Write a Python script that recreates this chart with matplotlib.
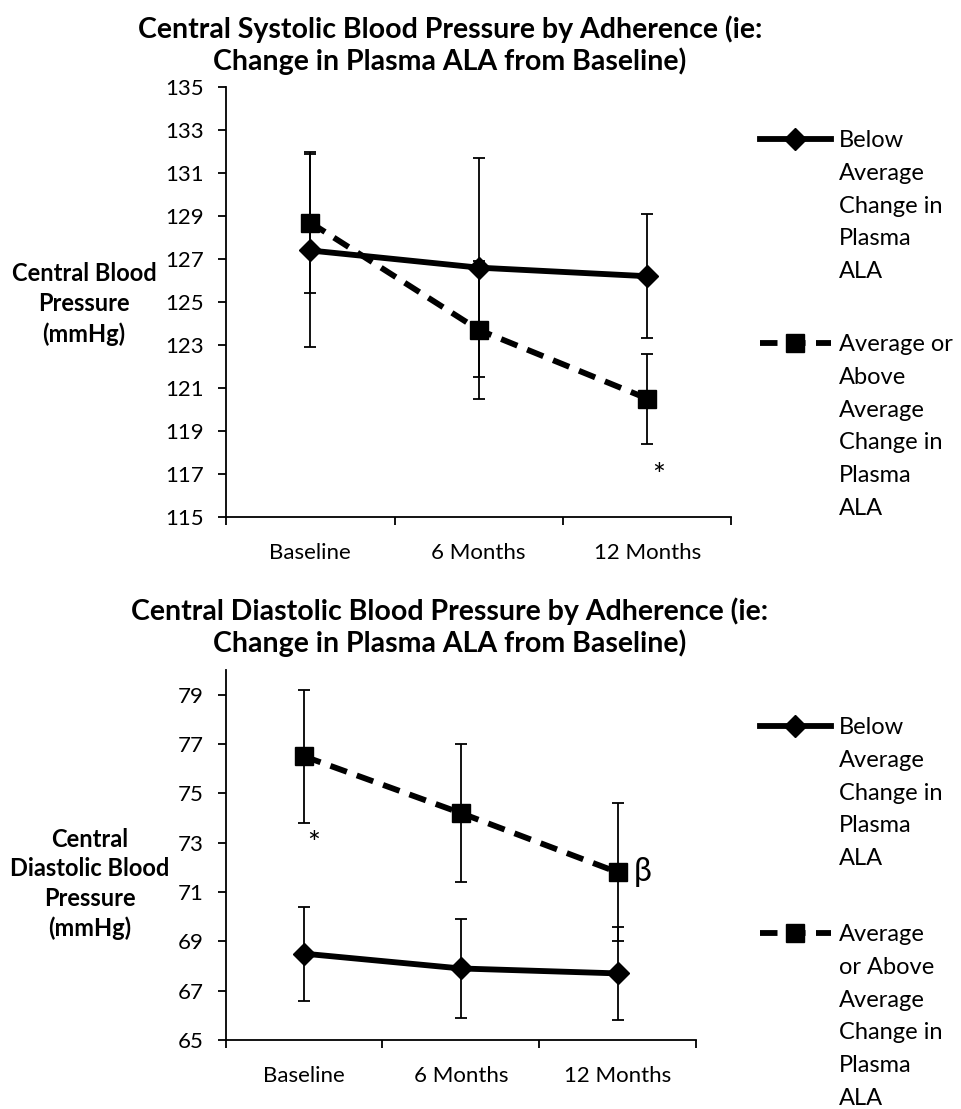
import numpy as np
import matplotlib.pyplot as plt
from matplotlib.lines import Line2D

plt.rcParams['font.family'] = ['Lato', 'DejaVu Sans']

timepoints = ['Baseline', '6 Months', '12 Months']

# central systolic (mmHg), mean and error bar half-width
sys_below = [127.4, 126.6, 126.2]
sys_below_err = [4.5, 5.1, 2.9]
sys_above = [128.7, 123.7, 120.5]
sys_above_err = [3.3, 3.2, 2.1]

# central diastolic (mmHg)
dia_below = [68.5, 67.9, 67.7]
dia_below_err = [1.9, 2.0, 1.9]
dia_above = [76.5, 74.2, 71.8]
dia_above_err = [2.7, 2.8, 2.8]

below_lines = ['Below', 'Average', 'Change in', 'Plasma', 'ALA']
above_lines_top = ['Average or', 'Above', 'Average', 'Change in', 'Plasma', 'ALA']
above_lines_bot = ['Average', 'or Above', 'Average', 'Change in', 'Plasma', 'ALA']

W, H = 962, 1109
fig = plt.figure(figsize=(W / 100, H / 100), dpi=100)


def add_legend(handle, lines, top_px):
    blank = Line2D([], [], linestyle='none')
    leg = fig.legend([handle] + [blank] * (len(lines) - 1), lines, loc='upper left',
                     frameon=False, bbox_to_anchor=(760 / W, 1 - top_px / H),
                     bbox_transform=fig.transFigure, fontsize=17, handlelength=3.0,
                     handletextpad=0.35, labelspacing=0.5, borderpad=0, borderaxespad=0)
    return leg


def draw(ax, below, below_err, above, above_err, ylo, yhi):
    x = np.arange(len(timepoints))
    for vals, errs in [(below, below_err), (above, above_err)]:
        ax.errorbar(x, vals, yerr=errs, fmt='none', ecolor='black',
                    elinewidth=1.3, capsize=4, capthick=1.3, zorder=4)
    l1, = ax.plot(x, below, color='black', lw=4.2, marker='D', ms=11, zorder=3)
    l2, = ax.plot(x, above, color='black', lw=4.2, ls=(0, (3.0, 1.8)),
                  marker='s', ms=13, zorder=3)

    ax.set_xlim(-0.5, len(timepoints) - 0.5)
    ax.set_ylim(ylo, yhi)
    ax.set_xticks(x)
    ax.set_xticklabels(timepoints)
    ax.set_xticks(np.arange(-0.5, len(timepoints)), minor=True)
    ax.tick_params(axis='x', which='major', length=0, pad=19, labelsize=16)
    ax.tick_params(axis='x', which='minor', length=6, width=1.3, direction='out')
    ax.tick_params(axis='y', length=6, width=1.3, direction='out', pad=10, labelsize=16)
    for s in ['top', 'right']:
        ax.spines[s].set_visible(False)
    for s in ['left', 'bottom']:
        ax.spines[s].set_linewidth(1.3)
    return l1, l2


ax1 = fig.add_axes([226 / W, 1 - 516.7 / H, 505.5 / W, 429.4 / H])
h1, h2 = draw(ax1, sys_below, sys_below_err, sys_above, sys_above_err, 115, 135)
ax1.set_yticks(np.arange(115, 136, 2))
add_legend(h1, below_lines, 130)
add_legend(h2, above_lines_top, 334)
ax1.text(2 + 0.07, sys_above[2] - sys_above_err[2] - 1.5, '*', fontsize=22,
         ha='center', va='center')

ax2 = fig.add_axes([225.7 / W, 1 - 1040 / H, 470.3 / W, 370 / H])
h1, h2 = draw(ax2, dia_below, dia_below_err, dia_above, dia_above_err, 65, 80)
ax2.set_yticks(np.arange(65, 80, 2))
add_legend(h1, below_lines, 717)
add_legend(h2, above_lines_bot, 924)
ax2.text(0 + 0.06, dia_above[0] - dia_above_err[0] - 0.85, '*', fontsize=22,
         ha='center', va='center')
ax2.text(2 + 0.16, dia_above[2], 'β', fontsize=23, ha='center', va='center')

fig.text(450 / W, 1 - 45 / H,
         'Central Systolic Blood Pressure by Adherence (ie:\nChange in Plasma ALA from Baseline)',
         ha='center', va='center', fontsize=20.5, fontweight='bold', linespacing=1.2)
fig.text(450 / W, 1 - 627 / H,
         'Central Diastolic Blood Pressure by Adherence (ie:\nChange in Plasma ALA from Baseline)',
         ha='center', va='center', fontsize=20.5, fontweight='bold', linespacing=1.2)

fig.text(84 / W, 1 - 304 / H, 'Central Blood\nPressure\n(mmHg)', ha='center', va='center',
         fontsize=17, fontweight='bold', linespacing=1.35)
fig.text(90 / W, 1 - 884 / H, 'Central\nDiastolic Blood\nPressure\n(mmHg)', ha='center',
         va='center', fontsize=17, fontweight='bold', linespacing=1.35)

fig.savefig('out.png', dpi=100)
